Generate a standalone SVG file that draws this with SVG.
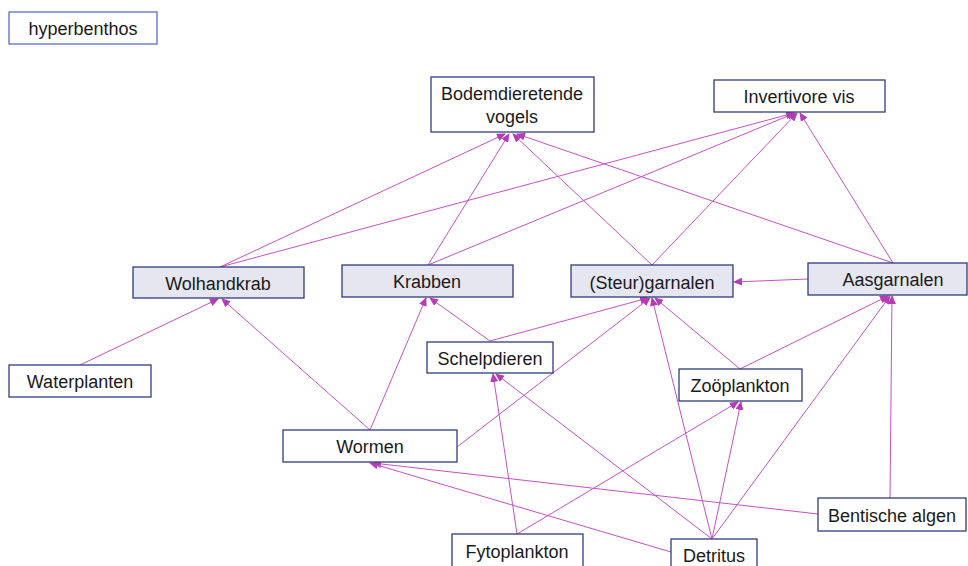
<svg xmlns="http://www.w3.org/2000/svg" width="968" height="566" viewBox="0 0 968 566">
  <style>
    .box { fill: #ffffff; stroke: #2f3d7a; stroke-width: 1.3; }
    .hi { fill: #e6e6f0; }
    .tag { stroke: #5a6cc8; }
    .lbl { font-family: "Liberation Sans", Arial, sans-serif; font-size: 18px; fill: #1a1a1a; text-anchor: middle; }
    .edge { fill: none; stroke: #c452c4; stroke-width: 1; marker-end: url(#ah); }
  </style>
  <defs>
    <marker id="ah" markerUnits="userSpaceOnUse" markerWidth="9" markerHeight="8" refX="8" refY="4" orient="auto">
      <path d="M0,0 L9,4 L0,8 Z" fill="#b63cb6"/>
    </marker>
  </defs>
  <rect width="968" height="566" fill="#ffffff"/>

  <!-- feeding links, pointing to the consumer -->
  <g id="connectors">
    <path class="edge" d="M220,267 L505,134"/>
    <path class="edge" d="M428,265 L509,134"/>
    <path class="edge" d="M652,265 L513,134"/>
    <path class="edge" d="M893,263 L517,134"/>
    <path class="edge" d="M220,267 L794,113"/>
    <path class="edge" d="M428,265 L795,113"/>
    <path class="edge" d="M652,265 L797,113"/>
    <path class="edge" d="M893,263 L800,113"/>
    <path class="edge" d="M80,365 L218,299"/>
    <path class="edge" d="M370,430 L222,299"/>
    <path class="edge" d="M370,430 L426,298"/>
    <path class="edge" d="M490,341 L430,298"/>
    <path class="edge" d="M490,341 L648,298"/>
    <path class="edge" d="M457,447 L650,298"/>
    <path class="edge" d="M740,369 L655,298"/>
    <path class="edge" d="M712,539 L652,298"/>
    <path class="edge" d="M808,279 L734,282"/>
    <path class="edge" d="M740,369 L888,296"/>
    <path class="edge" d="M712,539 L890,296"/>
    <path class="edge" d="M890,498 L892,296"/>
    <path class="edge" d="M517,534 L493,374"/>
    <path class="edge" d="M712,539 L496,374"/>
    <path class="edge" d="M517,534 L738,402"/>
    <path class="edge" d="M712,539 L741,402"/>
    <path class="edge" d="M818,514 L373,463"/>
    <path class="edge" d="M671,552 L370,463"/>
  </g>

  <g id="hyperbenthos">
    <rect class="box tag" x="9" y="12" width="148" height="32"/>
    <text class="lbl" x="83" y="35">hyperbenthos</text>
  </g>
  <g id="bodemdieretende-vogels">
    <rect class="box" x="431" y="77" width="163" height="55"/>
    <text class="lbl" x="512" y="100">Bodemdieretende</text>
    <text class="lbl" x="512" y="123">vogels</text>
  </g>
  <g id="invertivore-vis">
    <rect class="box" x="714" y="80" width="171" height="32"/>
    <text class="lbl" x="799" y="103">Invertivore vis</text>
  </g>
  <g id="wolhandkrab">
    <rect class="box hi" x="133" y="267" width="171" height="31"/>
    <text class="lbl" x="218" y="290">Wolhandkrab</text>
  </g>
  <g id="krabben">
    <rect class="box hi" x="342" y="265" width="171" height="32"/>
    <text class="lbl" x="427" y="288">Krabben</text>
  </g>
  <g id="steurgarnalen">
    <rect class="box hi" x="571" y="265" width="162" height="32"/>
    <text class="lbl" x="652" y="289">(Steur)garnalen</text>
  </g>
  <g id="aasgarnalen">
    <rect class="box hi" x="808" y="263" width="159" height="32"/>
    <text class="lbl" x="893" y="286">Aasgarnalen</text>
  </g>
  <g id="waterplanten">
    <rect class="box" x="9" y="365" width="142" height="32"/>
    <text class="lbl" x="80" y="388">Waterplanten</text>
  </g>
  <g id="schelpdieren">
    <rect class="box" x="427" y="342" width="126" height="31"/>
    <text class="lbl" x="490" y="365">Schelpdieren</text>
  </g>
  <g id="zooplankton">
    <rect class="box" x="679" y="369" width="123" height="32"/>
    <text class="lbl" x="740" y="392">Zoöplankton</text>
  </g>
  <g id="wormen">
    <rect class="box" x="283" y="430" width="174" height="32"/>
    <text class="lbl" x="370" y="453">Wormen</text>
  </g>
  <g id="bentische-algen">
    <rect class="box" x="818" y="498" width="148" height="33"/>
    <text class="lbl" x="892" y="522">Bentische algen</text>
  </g>
  <g id="fytoplankton">
    <rect class="box" x="452" y="534" width="131" height="34"/>
    <text class="lbl" x="517" y="558">Fytoplankton</text>
  </g>
  <g id="detritus">
    <rect class="box" x="671" y="539" width="86" height="30"/>
    <text class="lbl" x="714" y="562">Detritus</text>
  </g>
</svg>
